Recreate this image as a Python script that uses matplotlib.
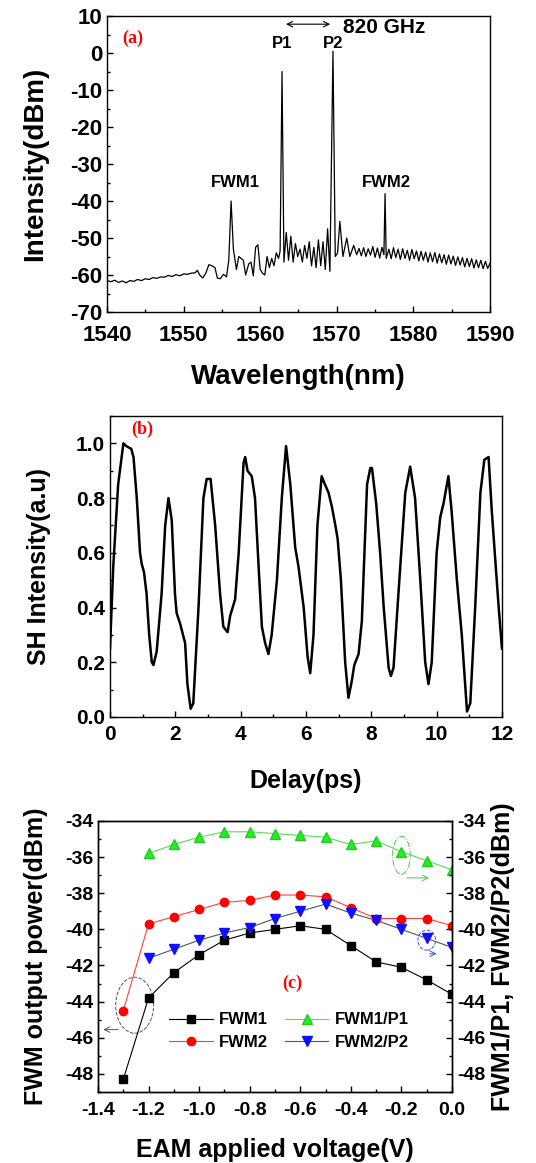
import matplotlib
matplotlib.use("Agg")
import matplotlib.pyplot as plt
from matplotlib.patches import Ellipse
from matplotlib.ticker import MultipleLocator
import numpy as np

plt.rcParams['font.family'] = ['Liberation Sans', 'DejaVu Sans']
plt.rcParams['font.weight'] = 'bold'
plt.rcParams['axes.labelweight'] = 'bold'
plt.rcParams['axes.unicode_minus'] = False

# ---------------- (a) optical spectrum ----------------
wl = [1540.0, 1540.5, 1541.0, 1541.5, 1542.0, 1542.5, 1543.0, 1543.5, 1544.0, 1544.5,
      1545.0, 1545.5, 1546.0, 1546.5, 1547.0, 1547.5, 1548.0, 1548.5, 1549.0, 1549.5,
      1550.0, 1550.5, 1551.0, 1551.5, 1551.8, 1552.1, 1552.5, 1552.9, 1553.3, 1553.7,
      1554.1, 1554.4, 1554.8, 1555.2, 1555.6, 1555.9, 1556.2, 1556.5, 1556.9, 1557.2,
      1557.5, 1557.8, 1558.1, 1558.5, 1558.8, 1559.1, 1559.4, 1559.7, 1560.0, 1560.3,
      1560.6, 1560.9, 1561.2, 1561.5, 1561.8, 1562.1, 1562.4, 1562.6, 1562.85, 1563.1,
      1563.4, 1563.7, 1564.0, 1564.3, 1564.6, 1564.9, 1565.2, 1565.5, 1565.8, 1566.1,
      1566.4, 1566.7, 1567.0, 1567.3, 1567.6, 1567.9, 1568.2, 1568.5, 1568.8, 1569.1,
      1569.5, 1569.8, 1570.1, 1570.4, 1570.8, 1571.3, 1571.7, 1572.2, 1572.6, 1572.9,
      1573.2, 1573.5, 1573.8, 1574.1, 1574.4, 1574.7, 1575.0, 1575.3, 1575.6, 1575.9,
      1576.15, 1576.3, 1576.45, 1576.8, 1577.1, 1577.4, 1577.7, 1578.0, 1578.3, 1578.6,
      1578.9, 1579.2, 1579.5, 1579.8, 1580.1, 1580.4, 1580.7, 1581.0, 1581.3, 1581.6,
      1581.9, 1582.2, 1582.5, 1582.8, 1583.1, 1583.4, 1583.7, 1584.0, 1584.3, 1584.6,
      1584.9, 1585.2, 1585.5, 1585.8, 1586.1, 1586.4, 1586.7, 1587.0, 1587.3, 1587.6,
      1587.9, 1588.2, 1588.5, 1588.8, 1589.1, 1589.4, 1589.7, 1590.0]
power = [-61.5, -61.8, -61.4, -62.0, -61.6, -62.1, -61.5, -61.7, -61.2, -61.5,
         -61.0, -61.2, -60.7, -60.9, -60.5, -60.6, -60.1, -60.4, -59.9, -60.2,
         -59.7, -59.8, -59.5, -59.4, -58.7, -60.0, -60.8, -59.5, -57.2, -57.5,
         -58.0, -60.8, -61.0, -59.8, -60.5, -56.0, -40.0, -53.0, -58.5, -55.0,
         -55.5, -56.0, -60.0, -57.0, -56.5, -60.2, -52.5, -51.8, -58.5, -59.5,
         -60.0, -55.0, -58.0, -55.5, -57.5, -54.0, -55.5, -53.5, -5.0, -56.5,
         -48.5, -56.0, -49.5, -56.5, -51.5, -55.0, -53.0, -56.5, -52.0, -55.5,
         -51.0, -57.5, -52.5, -58.0, -50.5, -57.5, -51.0, -58.5, -47.5, -59.0,
         0.5, -55.0, -54.0, -45.5, -55.0, -50.0, -55.0, -52.0, -54.5, -52.8,
         -54.8, -52.6, -55.0, -52.9, -54.6, -52.3, -55.2, -52.7, -55.4, -52.5,
         -54.5, -38.0, -55.5, -53.0, -55.6, -52.6, -55.3, -53.0, -55.8, -52.9,
         -55.5, -53.3, -56.0, -53.1, -55.6, -53.5, -56.2, -53.6, -56.0, -53.8,
         -56.5, -54.0, -56.4, -53.9, -56.8, -54.3, -56.7, -54.5, -57.1, -54.6,
         -57.0, -54.9, -57.4, -55.1, -57.3, -55.3, -57.8, -55.5, -57.7, -55.6,
         -58.1, -55.9, -58.0, -56.0, -58.3, -56.3, -58.2, -56.8]

# ---------------- (b) SH autocorrelation ----------------
delay = [0.0, 0.1, 0.25, 0.41, 0.5, 0.65, 0.72, 0.82, 0.92, 0.97, 1.04, 1.12, 1.2, 1.28,
         1.33, 1.43, 1.58, 1.69, 1.79, 1.89, 1.99, 2.04, 2.15, 2.3, 2.37, 2.47, 2.55, 2.71,
         2.86, 2.96, 3.08, 3.22, 3.37, 3.47, 3.6, 3.68, 3.83, 3.94, 4.09, 4.14, 4.21, 4.34,
         4.44, 4.55, 4.65, 4.75, 4.85, 4.95, 5.11, 5.26, 5.39, 5.52, 5.67, 5.77, 5.93, 6.05,
         6.13, 6.23, 6.35, 6.48, 6.58, 6.69, 6.79, 6.9, 6.97, 7.07, 7.2, 7.3, 7.4, 7.48,
         7.61, 7.71, 7.87, 7.97, 8.02, 8.15, 8.27, 8.38, 8.53, 8.6, 8.68, 8.83, 9.04, 9.19,
         9.34, 9.5, 9.65, 9.75, 9.85, 10.0, 10.11, 10.21, 10.36, 10.46, 10.62, 10.77, 10.93,
         11.03, 11.18, 11.34, 11.46, 11.59, 11.69, 11.9, 12.0]
sh = [0.25, 0.55, 0.85, 1.0, 0.99, 0.98, 0.95, 0.8, 0.6, 0.56, 0.53, 0.45, 0.3, 0.2,
      0.19, 0.24, 0.45, 0.7, 0.8, 0.72, 0.45, 0.38, 0.34, 0.27, 0.12, 0.03, 0.05, 0.4,
      0.8, 0.87, 0.87, 0.7, 0.45, 0.33, 0.31, 0.37, 0.43, 0.6, 0.93, 0.95, 0.9, 0.88,
      0.8, 0.55, 0.33, 0.27, 0.23, 0.3, 0.5, 0.8, 0.99, 0.85, 0.62, 0.55, 0.4, 0.22,
      0.16, 0.3, 0.7, 0.88, 0.85, 0.82, 0.77, 0.7, 0.65, 0.5, 0.2, 0.07, 0.13, 0.19,
      0.23, 0.35, 0.85, 0.91, 0.91, 0.78, 0.6, 0.4, 0.18, 0.15, 0.18, 0.45, 0.82, 0.915,
      0.8, 0.5, 0.2, 0.12, 0.2, 0.6, 0.73, 0.78, 0.88, 0.75, 0.5, 0.3, 0.02,
      0.05, 0.4, 0.82, 0.94, 0.95, 0.75, 0.4, 0.25]

# ---------------- (c) FWM vs EAM voltage ----------------
volt = [-1.3, -1.2, -1.1, -1.0, -0.9, -0.8, -0.7, -0.6, -0.5, -0.4, -0.3, -0.2, -0.1, 0.0]
fwm1 = [-48.3, -43.8, -42.4, -41.4, -40.6, -40.2, -40.0, -39.8, -40.0, -40.9, -41.8, -42.1, -42.8, -43.6]
fwm2 = [-44.5, -39.7, -39.3, -38.9, -38.5, -38.4, -38.1, -38.1, -38.2, -38.8, -39.4, -39.4, -39.4, -39.8]
volt_r = volt[1:]
fwm1_p1 = [-35.8, -35.3, -34.9, -34.6, -34.6, -34.7, -34.8, -34.9, -35.3, -35.1, -35.7, -36.2, -36.7]
fwm2_p2 = [-41.6, -41.1, -40.6, -40.2, -39.9, -39.4, -39.0, -38.6, -39.1, -39.5, -40.0, -40.5, -41.0]

fig = plt.figure(figsize=(5.36, 11.63), dpi=100)

def style(ax, size):
    ax.tick_params(which='both', direction='in', labelsize=size, width=1)
    ax.tick_params(which='major', length=4)
    ax.tick_params(which='minor', length=2.5)
    for s in ax.spines.values():
        s.set_linewidth(1.0)
    for lab in ax.get_xticklabels() + ax.get_yticklabels():
        lab.set_fontweight('bold')

# panel a
ax1 = fig.add_axes([0.1996, 0.7317, 0.7146, 0.2545])
ax1.plot(wl, power, color='black', lw=0.9)
ax1.set_xlim(1540, 1590)
ax1.set_ylim(-70, 10)
ax1.xaxis.set_major_locator(MultipleLocator(10))
ax1.xaxis.set_minor_locator(MultipleLocator(5))
ax1.yaxis.set_major_locator(MultipleLocator(10))
ax1.yaxis.set_minor_locator(MultipleLocator(5))
style(ax1, 16)
ax1.tick_params(axis='x', pad=9)
ax1.set_xlabel('Wavelength(nm)', fontsize=20, labelpad=13)
ax1.set_ylabel('Intensity(dBm)', fontsize=20, labelpad=16)
ax1.text(1542.0, 4, '(a)', color='red', fontsize=13, fontweight='bold',
         family='Liberation Serif', va='center')
ax1.text(1562.8, 2.5, 'P1', fontsize=12, fontweight='bold', ha='center', va='center')
ax1.text(1569.5, 2.5, 'P2', fontsize=12, fontweight='bold', ha='center', va='center')
ax1.annotate('', xy=(1563.0, 7.8), xytext=(1569.5, 7.8),
             arrowprops=dict(arrowstyle='<->', lw=0.8, color='black'))
ax1.text(1570.8, 7.0, '820 GHz', fontsize=15, fontweight='bold', va='center')
ax1.text(1556.8, -35, 'FWM1', fontsize=12, fontweight='bold', ha='center', va='center')
ax1.text(1576.5, -35, 'FWM2', fontsize=12, fontweight='bold', ha='center', va='center')

# panel b
ax2 = fig.add_axes([0.2052, 0.3835, 0.7313, 0.2588])
ax2.plot(delay, sh, color='black', lw=1.8)
ax2.set_xlim(0, 12)
ax2.set_ylim(0, 1.1)
ax2.xaxis.set_major_locator(MultipleLocator(2))
ax2.xaxis.set_minor_locator(MultipleLocator(1))
ax2.yaxis.set_major_locator(MultipleLocator(0.2))
ax2.yaxis.set_minor_locator(MultipleLocator(0.1))
style(ax2, 15)
ax2.tick_params(axis='x', pad=6)
ax2.set_xlabel('Delay(ps)', fontsize=18, labelpad=18)
ax2.set_ylabel('SH Intensity(a.u)', fontsize=18, labelpad=18)
ax2.text(0.65, 1.05, '(b)', color='red', fontsize=13, fontweight='bold',
         family='Liberation Serif', va='center')

# panel c
ax3 = fig.add_axes([0.1828, 0.0611, 0.6605, 0.2330])
ax3.plot(volt, fwm1, color='black', lw=0.8, marker='s', ms=5.5, mfc='black', mec='black', label='FWM1')
ax3.plot(volt, fwm2, color='#ff4040', lw=0.8, marker='o', ms=6, mfc='red', mec='red', label='FWM2')
ax3.plot(volt_r, fwm1_p1, color='#55dd55', lw=0.8, marker='^', ms=7, mfc='#22ee22', mec='#22cc22', label='FWM1/P1')
ax3.plot(volt_r, fwm2_p2, color='#555555', lw=0.8, marker='v', ms=7, mfc='#1010ff', mec='#1010ff', label='FWM2/P2')
ax3.set_xlim(-1.4, 0.0)
ax3.set_ylim(-49, -34)
ax3.xaxis.set_major_locator(MultipleLocator(0.2))
ax3.xaxis.set_minor_locator(MultipleLocator(0.1))
ax3.yaxis.set_major_locator(MultipleLocator(2))
ax3.yaxis.set_minor_locator(MultipleLocator(1))
style(ax3, 14)
ax3.tick_params(axis='x', pad=7)
ax3.set_xlabel('EAM applied voltage(V)', fontsize=18, labelpad=14)
ax3.set_ylabel('FWM output power(dBm)', fontsize=18, labelpad=12)
ax3r = ax3.twinx()
ax3r.set_ylim(-49, -34)
ax3r.yaxis.set_major_locator(MultipleLocator(2))
ax3r.yaxis.set_minor_locator(MultipleLocator(1))
style(ax3r, 14)
ax3r.set_ylabel('FWM1/P1, FWM2/P2(dBm)', fontsize=18, labelpad=4)

ax3.add_patch(Ellipse((-1.255, -44.2), 0.15, 3.1, fill=False, ls='--', lw=0.7, ec='#555555'))
ax3.annotate('', xy=(-1.39, -45.55), xytext=(-1.31, -45.55),
             arrowprops=dict(arrowstyle='->', lw=0.7, color='#555555'))
ax3.add_patch(Ellipse((-0.2, -35.9), 0.07, 2.1, fill=False, ls='-.', lw=0.7, ec='#44cc44'))
ax3.annotate('', xy=(-0.08, -37.15), xytext=(-0.19, -37.15),
             arrowprops=dict(arrowstyle='->', lw=0.7, color='#44cc44'))
ax3.add_patch(Ellipse((-0.1, -40.6), 0.07, 1.1, fill=False, ls='--', lw=0.7, ec='#3355ff'))
ax3.annotate('', xy=(-0.05, -41.35), xytext=(-0.1, -41.35),
             arrowprops=dict(arrowstyle='->', lw=0.7, color='#3355ff'))
ax3.text(-0.63, -43.0, '(c)', color='red', fontsize=13, fontweight='bold',
         family='Liberation Serif', ha='center', va='center')
leg = ax3.legend(loc='lower center', bbox_to_anchor=(0.54, 0.1), ncol=2, frameon=False,
                 prop={'size': 12, 'weight': 'bold'}, handlelength=2.6,
                 columnspacing=1.0, handletextpad=0.4, labelspacing=0.45)

fig.savefig('out.png', dpi=100)
